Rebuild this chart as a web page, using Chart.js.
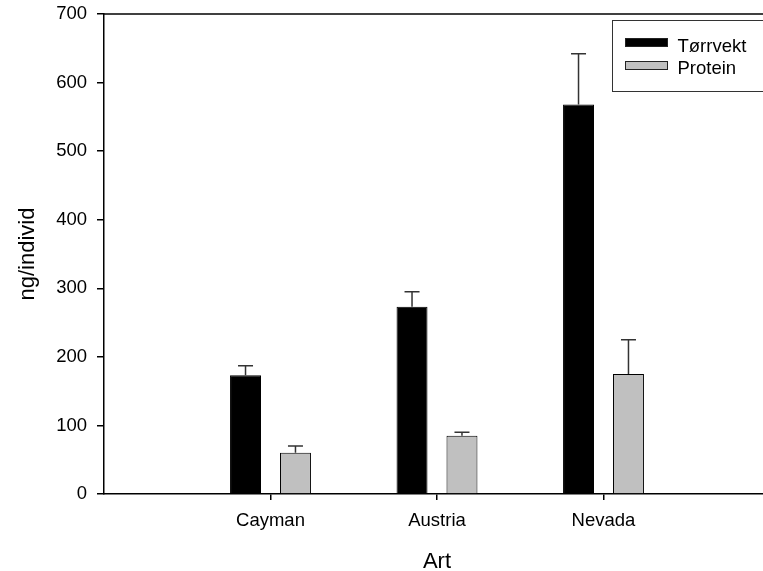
<!DOCTYPE html>
<html>
<head>
<meta charset="utf-8">
<script src="https://cdn.jsdelivr.net/npm/chart.js@4/dist/chart.umd.min.js"></script>
<style>
  html, body { margin: 0; padding: 0; background: #fff; overflow: hidden; }
  canvas { display: block; }
</style>
</head>
<body>
<canvas id="chart" width="780" height="571"></canvas>
<script>
// Data
const categories = ['Cayman', 'Austria', 'Nevada'];
const torrvekt = [173, 273, 568];
const torrvektSE = [14, 22, 74];
const protein = [60, 85, 175];
const proteinSE = [10, 5, 50];
const yTicks = [0, 100, 200, 300, 400, 500, 600, 700];

const FONT = 'Liberation Sans, Arial, sans-serif';

// error bars (upward only) + top frame line + boxed legend
const extras = {
    id: 'extras',
    afterDatasetsDraw(chart) {
        const ctx = chart.ctx;
        const y = chart.scales.y;
        ctx.save();
        ctx.strokeStyle = '#333';
        ctx.lineWidth = 1.5;
        chart.data.datasets.forEach((ds, i) => {
            const meta = chart.getDatasetMeta(i);
            meta.data.forEach((bar, j) => {
                const top = y.getPixelForValue(ds.data[j].y + ds.errors[j]);
                ctx.beginPath();
                ctx.moveTo(bar.x, bar.y);
                ctx.lineTo(bar.x, top);
                ctx.moveTo(bar.x - 7.5, top);
                ctx.lineTo(bar.x + 7.5, top);
                ctx.stroke();
            });
        });
        ctx.restore();
    },
    afterDraw(chart) {
        const ctx = chart.ctx;
        const a = chart.chartArea;
        ctx.save();
        ctx.strokeStyle = '#000';
        ctx.lineWidth = 1.5;
        ctx.beginPath();
        ctx.moveTo(a.left, a.top);
        ctx.lineTo(a.right, a.top);
        ctx.stroke();

        // legend box
        ctx.lineWidth = 1;
        ctx.strokeStyle = '#333';
        ctx.strokeRect(612.5, 20.5, 158, 71);
        ctx.font = '18.5px ' + FONT;
        ctx.textBaseline = 'alphabetic';
        ctx.textAlign = 'left';
        const rows = [[38, 51.7], [61, 74]];
        chart.data.datasets.forEach((ds, i) => {
            const [sy, ty] = rows[i];
            ctx.fillStyle = ds.backgroundColor;
            ctx.fillRect(625, sy, 43, 9);
            ctx.strokeStyle = '#222';
            ctx.strokeRect(625.5, sy + 0.5, 42, 8);
            ctx.fillStyle = '#000';
            ctx.fillText(ds.label, 677.5, ty);
        });
        ctx.restore();
    }
};

const ctx = document.getElementById('chart').getContext('2d');
new Chart(ctx, {
    type: 'bar',
    data: {
        datasets: [
            {
                label: 'Tørrvekt',
                data: torrvekt.map((v, i) => ({ x: i + 1, y: v })),
                errors: torrvektSE,
                backgroundColor: '#000000',
                borderColor: '#000000',
                borderWidth: 1
            },
            {
                label: 'Protein',
                data: protein.map((v, i) => ({ x: i + 1, y: v })),
                errors: proteinSE,
                backgroundColor: '#c0c0c0',
                borderColor: '#000000',
                borderWidth: 1
            }
        ]
    },
    options: {
        responsive: false,
        animation: false,
        categoryPercentage: 0.6,
        barPercentage: 0.62,
        layout: { padding: { left: 0, top: 14, right: 10, bottom: 0 } },
        plugins: {
            legend: { display: false },
            tooltip: { enabled: false }
        },
        scales: {
            x: {
                type: 'linear',
                offset: false,
                min: 0,
                max: 4,
                afterBuildTicks: (scale) => {
                    scale.ticks = categories.map((c, i) => ({ value: i + 1 }));
                },
                afterFit: (scale) => {
                    scale.height = 77;
                    scale.paddingLeft = 0;
                    scale.paddingRight = 0;
                },
                ticks: {
                    color: '#000',
                    padding: 10,
                    maxRotation: 0,
                    font: { family: FONT, size: 18.5 },
                    callback: (value) => categories[value - 1]
                },
                grid: { offset: false, drawOnChartArea: false, tickLength: 6, color: '#000', lineWidth: 1.5 },
                border: { color: '#000', width: 1.5 },
                title: {
                    display: true,
                    text: 'Art',
                    color: '#000',
                    font: { family: FONT, size: 22, lineHeight: 0.8 },
                    padding: 0
                }
            },
            y: {
                min: 0,
                max: 700,
                afterBuildTicks: (scale) => {
                    scale.ticks = yTicks.map(v => ({ value: v }));
                },
                afterFit: (scale) => {
                    scale.width = 104;
                    scale.paddingTop = 0;
                    scale.paddingBottom = 0;
                },
                ticks: {
                    color: '#000',
                    padding: 10,
                    font: { family: FONT, size: 18.5 }
                },
                grid: { drawOnChartArea: false, tickLength: 7, color: '#000', lineWidth: 1.5 },
                border: { color: '#000', width: 1.5 },
                title: {
                    display: true,
                    text: 'ng/individ',
                    color: '#000',
                    font: { family: FONT, size: 22 },
                    padding: { top: 15, bottom: 0 }
                }
            }
        }
    },
    plugins: [extras]
});
</script>
</body>
</html>
